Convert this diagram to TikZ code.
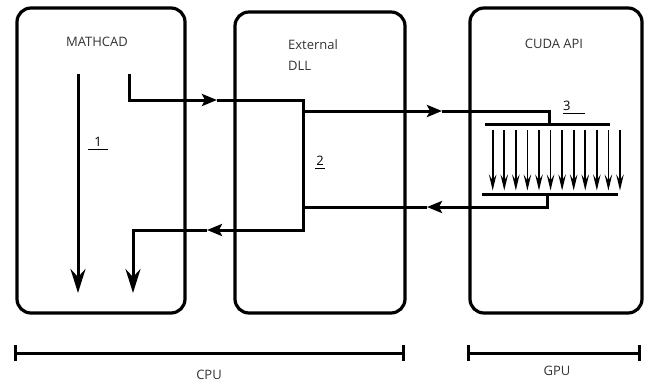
\documentclass[tikz,border=0pt]{standalone}
\usepackage{fontspec}
\setmainfont{Open Sans}
\usetikzlibrary{arrows.meta}

\begin{document}
\begin{tikzpicture}[x=1pt,y=-1pt,line join=miter,
  box/.style={draw,line width=3.2pt,rounded corners=14pt,inner sep=0pt},
  flow/.style={line width=3pt},
  bigtip/.style={-{Stealth[length=24pt,width=15pt,inset=8pt]}},
  midtip/.style={-{Stealth[length=15pt,width=12pt,inset=3pt]}},
  thintip/.style={line width=1.8pt,-{Stealth[length=16pt,width=7.5pt,inset=6pt]}},
  lbl/.style={font=\fontsize{13}{20.5}\selectfont,text=black!80,inner sep=0pt},
  num/.style={lbl,text=black,inner ysep=2.5pt},
  numline/.style={line width=1.6pt}]
\useasboundingbox (0,0) rectangle (651,383);
\node[box,minimum width=168pt,minimum height=305pt] (mathcad) at (101,160.5) {};
\node[box,minimum width=170pt,minimum height=301pt] (dll) at (320,162.5) {};
\node[box,minimum width=172pt,minimum height=305pt] (cuda) at (556,160.5) {};
\node[lbl] (mathcadtxt) at (97,42) {MATHCAD};
\node[lbl,anchor=west,align=left] (dlltxt) at (288,55) {External\\DLL};
\node[lbl] (cudatxt) at (554,44) {CUDA API};
\node[num,inner xsep=6pt] (n1) at (98,142) {1};
\draw[numline] (n1.south west) -- (n1.south east);
\node[num,inner xsep=1pt] (n2) at (320,161) {2};
\draw[numline] (n2.south west) -- (n2.south east);
\node[num,inner xsep=0pt,text width=22pt,align=left] (n3) at (574,106) {3};
\draw[numline] (n3.south west) -- (n3.south east);
\coordinate (mainstart) at (78,74);
\coordinate (mainend) at (78,293);
\draw[flow,bigtip] (mainstart) -- (mainend);
\coordinate (outtop) at (129,74);
\coordinate (tipA) at (217,100);
\coordinate (dllTR) at (303,100);
\coordinate (dllBR) at (303,230);
\coordinate (tipB) at (207,230);
\coordinate (backend) at (133,293);
\draw[flow,midtip] (outtop) |- (tipA);
\draw[flow,midtip] (tipA) -- (dllTR) -- (dllBR) -- (tipB);
\draw[flow,bigtip] (tipB) -| (backend);
\coordinate (barTL) at (485,124);
\coordinate (barTR) at (610,124);
\coordinate (barBL) at (482,194);
\coordinate (barBR) at (618,194);
\draw[flow] (barTL) -- (barTR);
\draw[flow] (barBL) -- (barBR);
\coordinate (dllM1) at (303,111);
\coordinate (tipC) at (442,111);
\coordinate (splitT) at (549,111);
\draw[flow,midtip] (dllM1) -- (tipC);
\draw[flow] (tipC) -- (splitT) -- (splitT |- barTL);
\coordinate (joinB) at (547,207);
\coordinate (tipD) at (427,207);
\coordinate (dllM2) at (303,207);
\draw[flow,midtip] (joinB |- barBL) -- (joinB) -- (tipD);
\draw[flow] (tipD) -- (dllM2);
\foreach \i in {0,...,11}
  \draw[thintip] (492.7+11.57*\i,130) -- (492.7+11.57*\i,190.5);
\coordinate (cpuL) at (14,353);
\coordinate (cpuR) at (405,353);
\coordinate (gpuL) at (467,353);
\coordinate (gpuR) at (641,353);
\draw[flow,{Bar[width=16pt]}-{Bar[width=16pt]}] (cpuL) -- (cpuR);
\draw[flow,{Bar[width=16pt]}-{Bar[width=16pt]}] (gpuL) -- (gpuR);
\node[lbl] (cpu) at (209,375) {CPU};
\node[lbl] (gpu) at (557,371) {GPU};
\end{tikzpicture}
\end{document}
